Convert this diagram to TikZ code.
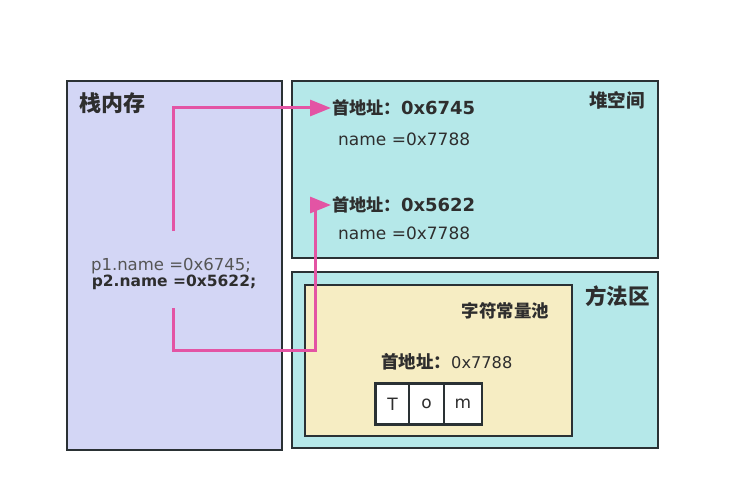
\documentclass[tikz,border=0pt]{standalone}
\usepackage{fontspec}
\setmainfont{DejaVu Sans}
\newfontfamily\cjk{Noto Sans CJK SC}
\usetikzlibrary{arrows.meta}
\definecolor{stackc}{HTML}{D3D6F5}
\definecolor{heapc}{HTML}{B5E8E9}
\definecolor{poolc}{HTML}{F6EDC3}
\definecolor{edge}{HTML}{2A3134}
\definecolor{txt}{HTML}{2E2E2E}
\definecolor{gtxt}{HTML}{555555}
\definecolor{pinkc}{HTML}{E354A4}
\tikzset{
  area/.style={draw=edge, line width=2.8pt, inner sep=0pt},
  cell/.style={draw=edge, line width=2.6pt, fill=white, inner sep=0pt, minimum height=41pt, font=\fontsize{17}{17}\selectfont, text=txt},
  lbl/.style={inner sep=0pt, text=txt},
  link/.style={draw=pinkc, line width=3pt, -{Triangle[length=21pt,width=16pt]}}
}
\begin{document}
\begin{tikzpicture}[x=1pt,y=-1pt]
\useasboundingbox[fill=white] (0,0) rectangle (729,487);
% areas
\node[area, fill=stackc, minimum width=215pt, minimum height=369pt] (stack) at (174.5,265.5) {};
\node[area, fill=heapc, minimum width=366pt, minimum height=177pt] (heap) at (475,169.5) {};
\node[area, fill=heapc, minimum width=366pt, minimum height=176pt] (method) at (475,360) {};
\node[area, fill=poolc, minimum width=267pt, minimum height=151pt] (pool) at (438.5,360.5) {};
% titles
\node[lbl, anchor=west, font=\fontsize{22}{22}\selectfont\cjk\bfseries] (stitle) at (79,103) {栈内存};
\node[lbl, anchor=east, font=\fontsize{18.5}{18.5}\selectfont\cjk\bfseries] (htitle) at (645,100) {堆空间};
\node[lbl, anchor=east, font=\fontsize{21.5}{21.5}\selectfont\cjk\bfseries] (mtitle) at (650,296) {方法区};
\node[lbl, anchor=east, font=\fontsize{17.4}{17.4}\selectfont\cjk\bfseries] (ptitle) at (549,311) {字符常量池};
% heap contents
\node[lbl, anchor=west, font=\fontsize{18}{18}\selectfont\bfseries] (h1) at (332,108) {{\cjk\fontsize{17.2}{17.2}\selectfont 首地址：}0x6745};
\node[lbl, anchor=west, font=\fontsize{17}{17}\selectfont] (n1) at (338,139) {name =0x7788};
\node[lbl, anchor=west, font=\fontsize{18}{18}\selectfont\bfseries] (h2) at (332,205) {{\cjk\fontsize{17.2}{17.2}\selectfont 首地址：}0x5622};
\node[lbl, anchor=west, font=\fontsize{17}{17}\selectfont] (n2) at (338,233) {name =0x7788};
% pool contents
\node[lbl, anchor=west, font=\fontsize{16.2}{16.2}\selectfont] (h3) at (381,362) {{\cjk\bfseries\fontsize{17.5}{17.5}\selectfont 首地址：}0x7788};
\node[cell, minimum width=34pt] (cT) at (392.5,404) {T};
\node[cell, minimum width=35pt] (co) at (426.5,404) {o};
\node[cell, minimum width=38pt] (cm) at (463,404) {m};
% stack contents
\node[lbl, font=\fontsize{16.5}{16.5}\selectfont, text=gtxt] (p1) at (171,266) {p1.name =0x6745;};
\node[lbl, font=\fontsize{15.5}{15.5}\selectfont\bfseries] (p2) at (174,282) {p2.name =0x5622;};
% connectors
\coordinate (s1) at (173,231);
\coordinate (s2) at (173,308);
\coordinate (c2) at (315,350);
\draw[link, shorten >=1pt] (s1) |- (h1.west);
\draw[link, shorten >=1pt] (s2) |- (c2) |- (h2.west);
\end{tikzpicture}
\end{document}
